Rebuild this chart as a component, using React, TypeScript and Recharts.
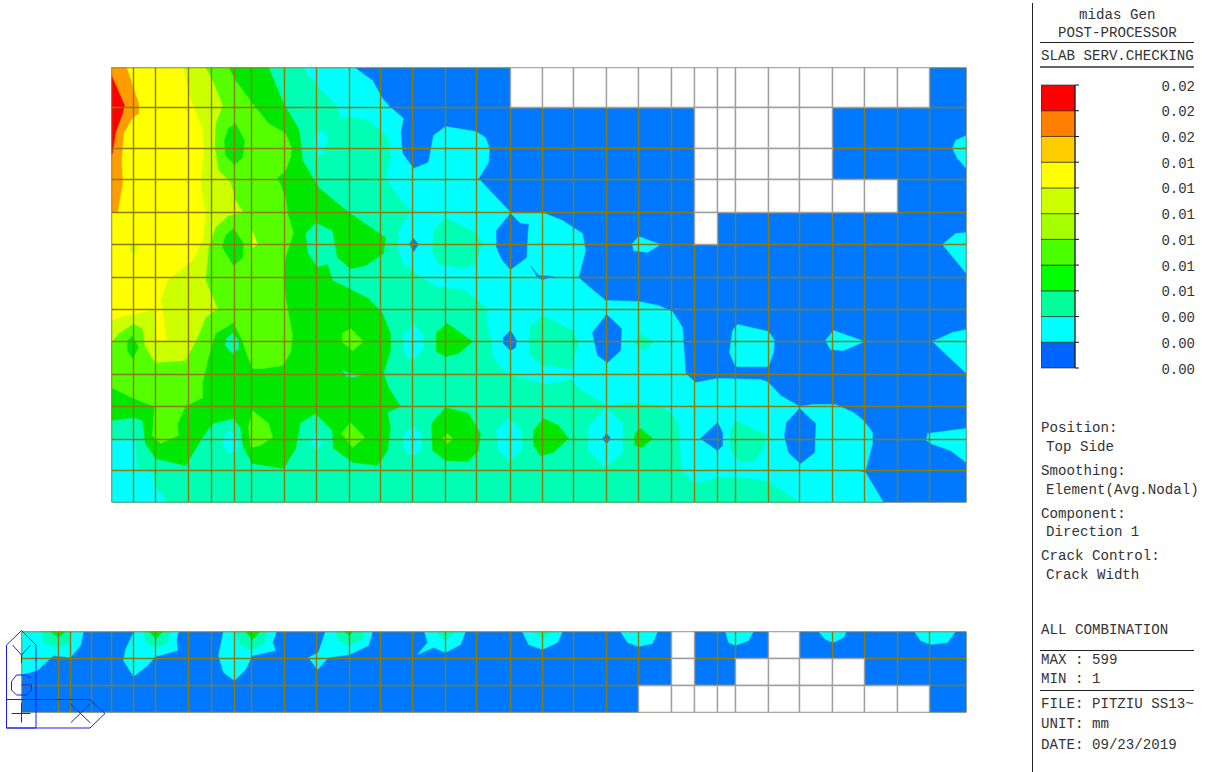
import React from "react";
import { Bar, BarChart, Scatter, ScatterChart, XAxis, YAxis } from "recharts";

type Pt = [number, number];

const BLUE = "#0078ff";
const CYAN = "#00ffff";
const TEAL = "#00ffb4";
const GREEN = "#00e800";
const LIME = "#55ff00";
const CHART = "#ccff00";
const YELLOW = "#ffff00";
const ORANGE = "#ff9c00";
const RED = "#ff0000";

// mesh lines of the slab plan
const gridX = [0, 22, 44, 77, 100, 123, 140, 173, 205, 238, 269, 301, 334, 365, 399, 431, 462, 495, 527, 560, 583, 606, 624, 657, 688, 721, 753, 786, 818, 855];
const gridY = [0, 40, 81, 112, 145, 177, 210, 242, 274, 307, 339, 372, 403, 435];
const sectionExtraX = [-90, -53, -41, -20];
const sectionY = [0, 27, 54, 81];

// [row, first column, column after last]
const planWhite = [[0, 14, 28], [1, 20, 25], [2, 20, 25], [3, 20, 27], [4, 20, 21]];
const sectionWhite = [[0, 19, 20], [0, 23, 24], [1, 19, 20], [1, 22, 26], [2, 18, 28]];

// contour outlines
const cyanMain: Pt[] = [[243,0],[261,13],[271,31],[277,38],[292,51],[289,65],[291,86],[302,101],[317,95],[322,68],[334,59],[364,64],[374,70],[378,81],[377,95],[367,111],[399,145],[431,145],[451,153],[471,166],[474,183],[467,210],[476,218],[494,233],[527,234],[547,238],[561,244],[571,260],[574,306],[584,315],[606,311],[649,312],[657,315],[669,328],[688,339],[701,337],[724,337],[742,345],[752,353],[761,365],[761,376],[754,403],[746,404],[754,405],[772,435],[0,435],[0,0]];
const blueHoles: Pt[][] = [
  [[298,176],[302,171],[307,177],[302,184]],
  [[399,146],[409,156],[417,157],[416,166],[415,190],[399,202],[391,193],[385,180],[385,163]],
  [[419,198],[427,208],[442,209],[431,212],[426,210]],
  [[495,247],[510,261],[509,283],[496,295],[486,288],[481,265]],
  [[399,263],[405,273],[404,280],[399,283],[392,276],[392,270]],
  [[606,355],[611,365],[611,378],[606,383],[589,371]],
  [[688,341],[704,356],[703,385],[689,396],[677,385],[673,368],[675,355]],
];
const cyanIslands: Pt[][] = [
  [[855,68],[844,73],[841,81],[846,91],[855,101]],
  [[855,165],[844,166],[831,177],[855,206]],
  [[527,169],[549,177],[536,185],[522,183],[521,176]],
  [[626,257],[657,264],[663,273],[662,285],[657,299],[624,299],[618,285],[621,263]],
  [[722,263],[753,274],[732,283],[719,282],[714,273]],
  [[855,262],[841,265],[821,274],[855,306]],
  [[855,361],[839,363],[816,366],[815,373],[819,376],[839,383],[855,395]],
];
const tealMain: Pt[] = [[191,0],[204,16],[226,40],[229,51],[237,49],[257,53],[277,71],[279,90],[274,110],[284,126],[299,143],[287,163],[286,180],[292,197],[304,206],[314,213],[327,220],[352,222],[367,233],[377,243],[374,250],[379,270],[381,288],[394,306],[434,317],[459,312],[467,321],[497,339],[517,335],[547,338],[559,345],[567,356],[569,393],[569,403],[584,416],[606,410],[624,410],[649,412],[661,416],[687,435],[57,435],[44,420],[42,405],[26,401],[24,370],[0,372],[0,0]];
const tealIslands: Pt[][] = [
  [[431,248],[461,263],[467,276],[459,301],[437,298],[431,299],[418,286],[418,261]],
  [[334,150],[364,165],[371,176],[364,196],[352,201],[326,196],[321,183],[322,163]],
  [[529,266],[542,275],[532,283],[523,276]],
  [[624,353],[656,368],[652,380],[644,393],[629,395],[619,383],[619,363]],
];
const cyanOnTeal: Pt[][] = [
  [[211,63],[216,70],[212,86],[206,88],[202,80],[204,68]],
  [[302,256],[312,268],[312,281],[302,293],[292,285],[292,268]],
  [[301,358],[310,368],[310,381],[301,390],[292,381],[292,368]],
  [[397,351],[409,363],[411,381],[398,394],[386,381],[385,363]],
  [[494,340],[511,356],[511,385],[494,400],[477,383],[477,360]],
  [[119,363],[127,373],[126,383],[117,386],[111,376],[112,368]],
  [[204,365],[211,375],[205,383],[199,375]],
];
const blueTiny: Pt[] = [[495,366],[499,371],[495,376],[491,371]];
const greenMain: Pt[] = [[157,0],[172,36],[187,61],[189,73],[191,93],[207,120],[237,145],[274,170],[272,186],[254,198],[239,201],[226,190],[221,163],[204,155],[194,166],[196,185],[206,200],[216,197],[221,213],[241,223],[257,231],[271,246],[279,266],[279,283],[272,306],[277,320],[289,339],[276,345],[279,360],[276,383],[266,398],[242,395],[222,381],[221,363],[204,346],[189,355],[184,381],[172,401],[141,396],[132,380],[129,360],[122,351],[101,356],[91,370],[74,398],[44,391],[34,376],[31,353],[22,350],[0,353],[0,0]];
const greenIslands: Pt[][] = [
  [[336,256],[361,274],[347,286],[334,289],[325,284],[325,265]],
  [[334,340],[357,346],[369,366],[367,383],[356,394],[334,393],[321,383],[320,356]],
  [[432,351],[447,358],[457,371],[442,385],[429,388],[422,378],[422,363]],
  [[529,361],[541,371],[531,380],[523,378],[523,366]],
];
const limeMain: Pt[] = [[117,0],[124,13],[141,36],[157,56],[174,66],[180,80],[179,90],[174,103],[166,110],[174,130],[176,146],[182,165],[174,190],[172,210],[174,230],[181,268],[179,285],[171,298],[152,301],[141,301],[134,283],[131,273],[122,255],[104,266],[96,293],[91,316],[91,330],[74,339],[66,356],[67,368],[49,376],[41,368],[43,339],[20,330],[0,320],[0,0]];
const greenInLime: Pt[][] = [
  [[124,56],[133,73],[131,90],[123,97],[114,88],[113,73],[117,61]],
  [[122,161],[132,176],[131,190],[122,198],[111,180],[114,168]],
  [[21,269],[27,280],[21,291],[16,283],[16,273]],
];
const tealInGreen: Pt[][] = [
  [[121,266],[127,273],[127,281],[121,286],[114,278],[115,271]],
  [[231,303],[239,306],[251,307],[241,310],[235,309]],
];
const limeIslands: Pt[][] = [
  [[239,261],[252,274],[241,283],[231,275],[231,266]],
  [[239,355],[253,370],[241,380],[230,366]],
  [[141,343],[157,356],[161,370],[149,378],[139,380],[137,360]],
  [[336,366],[341,371],[336,376],[331,371]],
];
const chartMain: Pt[] = [[94,0],[101,13],[111,38],[104,56],[103,80],[107,103],[119,115],[124,133],[132,145],[117,148],[104,160],[97,180],[94,213],[106,241],[94,250],[86,270],[74,293],[44,295],[34,280],[31,261],[22,256],[7,266],[0,275],[0,0]];
const yellowMain: Pt[] = [[72,0],[77,26],[91,63],[92,86],[89,116],[94,146],[91,173],[81,193],[56,213],[49,233],[52,250],[55,273],[45,273],[44,242],[14,248],[0,253],[0,0]];
const chartSpot: Pt[] = [[22,175],[26,181],[22,187],[18,181]];
const yellowTick: Pt[] = [[141,164],[146,177],[141,180]];
const orangeMain: Pt[] = [[15,0],[27,36],[27,46],[21,50],[12,66],[10,93],[11,116],[6,145],[0,145],[0,0]];
const redMain: Pt[] = [[0,8],[13,38],[11,46],[4,65],[1,86],[0,86]];

const sectionCyan: Pt[][] = [
  [[-90,0],[-28,0],[-31,14],[-41,26],[-58,24],[-74,39],[-90,43]],
  [[22,1],[14,18],[12,29],[22,45],[36,34],[44,25],[66,19],[65,8],[67,0],[22,0]],
  [[112,0],[107,24],[112,41],[123,49],[134,38],[141,24],[164,19],[161,11],[165,0]],
  [[214,0],[207,21],[197,26],[206,38],[217,26],[238,23],[257,14],[261,0]],
  [[313,0],[316,11],[306,23],[322,16],[334,21],[349,13],[354,0]],
  [[411,0],[417,13],[431,18],[446,11],[451,0]],
  [[509,0],[516,11],[527,15],[541,12],[546,0]],
  [[614,0],[617,11],[624,14],[637,9],[642,0]],
  [[707,0],[714,8],[722,11],[732,6],[735,0]],
  [[803,0],[809,9],[819,13],[836,11],[844,0]],
];
const sectionTeal: Pt[][] = [
  [[-69,0],[-68,11],[-53,16],[-43,11],[-39,0]],
  [[32,0],[34,11],[44,16],[56,11],[59,0]],
  [[124,0],[129,14],[141,18],[152,13],[156,0]],
  [[224,0],[227,9],[238,14],[251,8],[252,0]],
  [[324,0],[334,9],[344,0]],
  [[422,0],[431,8],[439,0]],
];
const sectionGreen: Pt[][] = [
  [[-61,0],[-53,6],[-46,0]],
  [[37,0],[44,7],[52,0]],
  [[134,0],[141,8],[149,0]],
  [[233,0],[238,4],[241,0]],
];

const planLayers: [string, Pt[]][] = [
  [CYAN, cyanMain],
  ...cyanIslands.map((p): [string, Pt[]] => [CYAN, p]),
  [TEAL, tealMain],
  ...tealIslands.map((p): [string, Pt[]] => [TEAL, p]),
  ...cyanOnTeal.map((p): [string, Pt[]] => [CYAN, p]),
  ...blueHoles.map((p): [string, Pt[]] => [BLUE, p]),
  [BLUE, blueTiny],
  [GREEN, greenMain],
  ...greenIslands.map((p): [string, Pt[]] => [GREEN, p]),
  [LIME, limeMain],
  ...greenInLime.map((p): [string, Pt[]] => [GREEN, p]),
  ...tealInGreen.map((p): [string, Pt[]] => [TEAL, p]),
  ...limeIslands.map((p): [string, Pt[]] => [LIME, p]),
  [CHART, chartMain],
  [YELLOW, yellowMain],
  [CHART, chartSpot],
  [YELLOW, yellowTick],
  [ORANGE, orangeMain],
  [RED, redMain],
];
const sectionLayers: [string, Pt[]][] = [
  ...sectionCyan.map((p): [string, Pt[]] => [CYAN, p]),
  ...sectionTeal.map((p): [string, Pt[]] => [TEAL, p]),
  ...sectionGreen.map((p): [string, Pt[]] => [GREEN, p]),
];

// legend, bottom band first
const legendColors = ["#0064ff", "#00ffff", "#00ff99", "#00ff00", "#4cff00", "#a6ff00", "#ccff00", "#ffff00", "#ffcc00", "#ff7f00", "#ff0000"];
const legendValues = ["0.00", "0.00", "0.00", "0.01", "0.01", "0.01", "0.01", "0.01", "0.01", "0.02", "0.02", "0.02"];
const legendTicks = [0, 1, 2, 3, 4, 5, 6, 7, 8, 9, 10, 11];
const legendData = [Object.fromEntries([["name", "crack"], ...legendColors.map((_, i) => [`b${i}`, 1])])];

const MESH = "#8a7c0c";
const CELL = "#a0a0a0";
const FONT = '"Liberation Mono", monospace';

const NoMark = () => <g />;

const rect = (x1: number, x2: number, y1: number, y2: number): Pt[] => [[x1, y1], [x2, y1], [x2, y2], [x1, y2]];

const SlabChart = ({ xs, ys, layers, white, style }: { xs: number[]; ys: number[]; layers: [string, Pt[]][]; white: number[][]; style: React.CSSProperties }) => {
  const xMin = xs[0];
  const xMax = xs[xs.length - 1];
  const yMax = ys[ys.length - 1];
  const meshLines: Pt[][] = [
    ...xs.map((x): Pt[] => [[x, 0], [x, yMax]]),
    ...ys.map((y): Pt[] => [[xMin, y], [xMax, y]]),
  ];
  const whiteCells: Pt[][] = white.flatMap(([row, from, to]) =>
    gridX.slice(from, to).map((x, i) => rect(x, gridX[from + i + 1], ys[row], ys[row + 1]))
  );
  const fills: [string, Pt[]][] = [[BLUE, rect(xMin, xMax, 0, yMax)], ...layers];
  return (
    <div style={{ position: "absolute", ...style }}>
      <ScatterChart width={xMax - xMin + 4} height={yMax + 4} margin={{ left: 2.5, top: 2.5, right: 1.5, bottom: 1.5 }}>
        <XAxis dataKey="x" type="number" domain={[xMin, xMax]} hide allowDataOverflow />
        <YAxis dataKey="y" type="number" domain={[0, yMax]} reversed hide allowDataOverflow />
        {fills.map(([color, poly], i) => (
          <Scatter
            key={`f${i}`}
            data={poly.map(([x, y]) => ({ x, y }))}
            line={{ fill: color, stroke: color, strokeWidth: 0.5 }}
            lineJointType="linearClosed"
            shape={NoMark}
            isAnimationActive={false}
          />
        ))}
        {meshLines.map((seg, i) => (
          <Scatter
            key={`m${i}`}
            data={seg.map(([x, y]) => ({ x, y }))}
            line={{ stroke: MESH, strokeWidth: 1.4 }}
            shape={NoMark}
            isAnimationActive={false}
          />
        ))}
        {whiteCells.map((cell, i) => (
          <Scatter
            key={`w${i}`}
            data={cell.map(([x, y]) => ({ x, y }))}
            line={{ fill: "#ffffff", stroke: CELL, strokeWidth: 1.4 }}
            lineJointType="linearClosed"
            shape={NoMark}
            isAnimationActive={false}
          />
        ))}
      </ScatterChart>
    </div>
  );
};

const LegendTick = ({ x, y, payload }: any) => (
  <text x={x + 114} y={y + 5.5} textAnchor="end" fontFamily={FONT} fontSize={14} fill="#333">
    {legendValues[payload.value]}
  </text>
);

const Txt = ({ x, y, children }: { x: number; y: number; children: React.ReactNode }) => (
  <div style={{ position: "absolute", left: x, top: y - 8, lineHeight: "18px", fontFamily: FONT, fontSize: 14.15, color: "#333", whiteSpace: "pre" }}>{children}</div>
);
const Rule = ({ y, h = 1, color = "#222" }: { y: number; h?: number; color?: string }) => (
  <div style={{ position: "absolute", left: 1040, top: y, width: 154, height: h, background: color }} />
);

const Glyph = () => (
  <svg width={110} height={110} style={{ position: "absolute", left: 0, top: 625 }} fill="none" stroke="#1c1cf0" strokeWidth={1}>
    <g transform="translate(0,-625)">
      <polygon points="21.5,630.5 36,645 36,728 6.5,728 6.5,645" />
      <polygon points="6.5,699.5 90,699.5 105,713.5 90,728 6.5,728" />
      <polyline points="12.5,645 21.5,655 30.5,645" />
      <line x1={21.5} y1={655} x2={21.5} y2={663} />
      <polyline points="30.5,678 26.5,675 16.5,675 11.5,681.5 11.5,690 16.5,695 26.5,695 31.5,690 31.5,685 21.5,685" />
      <line x1={11.5} y1={713.5} x2={30.5} y2={713.5} />
      <line x1={21.5} y1={703} x2={21.5} y2={722.5} />
      <line x1={70} y1={703.5} x2={90.5} y2={723} />
      <line x1={90.5} y1={703.5} x2={71} y2={722.5} />
    </g>
  </svg>
);

export default function App() {
  return (
    <div style={{ position: "absolute", left: 0, top: 0, width: 1206, height: 772, background: "#fff", overflow: "hidden" }}>
      <SlabChart xs={gridX} ys={gridY} layers={planLayers} white={planWhite} style={{ left: 109, top: 65 }} />
      <SlabChart xs={[...sectionExtraX, ...gridX]} ys={sectionY} layers={sectionLayers} white={sectionWhite} style={{ left: 19, top: 629 }} />
      <Glyph />

      <div style={{ position: "absolute", left: 1032, top: 3, width: 1, height: 769, background: "#222" }} />
      <Txt x={1079} y={14}>midas Gen</Txt>
      <Txt x={1058} y={32}>POST-PROCESSOR</Txt>
      <Rule y={42} />
      <Txt x={1041} y={55}>SLAB SERV.CHECKING</Txt>
      <Rule y={66} h={2} color="#666" />

      <div style={{ position: "absolute", left: 1041, top: 77 }}>
        <BarChart width={160} height={300} data={legendData} margin={{ left: 0, top: 8, right: 6, bottom: 9 }} barCategoryGap={0}>
          <XAxis dataKey="name" hide />
          <YAxis orientation="right" type="number" domain={[0, 11]} ticks={legendTicks} interval={0} width={120} tickSize={4} tickLine={{ stroke: "#111" }} axisLine={{ stroke: "#111" }} tick={<LegendTick />} />
          {legendColors.map((color, i) => (
            <Bar key={i} dataKey={`b${i}`} stackId="bands" fill={color} stroke="#222" strokeWidth={0.6} isAnimationActive={false} />
          ))}
        </BarChart>
      </div>

      <Txt x={1041} y={427}>Position:</Txt>
      <Txt x={1046} y={446}>Top Side</Txt>
      <Txt x={1041} y={470}>Smoothing:</Txt>
      <Txt x={1046} y={489}>Element(Avg.Nodal)</Txt>
      <Txt x={1041} y={513}>Component:</Txt>
      <Txt x={1046} y={531}>Direction 1</Txt>
      <Txt x={1041} y={555}>Crack Control:</Txt>
      <Txt x={1046} y={574}>Crack Width</Txt>
      <Txt x={1041} y={629}>ALL COMBINATION</Txt>
      <Rule y={650} />
      <Txt x={1041} y={659}>MAX : 599</Txt>
      <Txt x={1041} y={678}>MIN : 1</Txt>
      <Rule y={690} />
      <Txt x={1041} y={703}>FILE: PITZIU SS13~</Txt>
      <Txt x={1041} y={723}>UNIT: mm</Txt>
      <Txt x={1041} y={744}>DATE: 09/23/2019</Txt>
    </div>
  );
}
